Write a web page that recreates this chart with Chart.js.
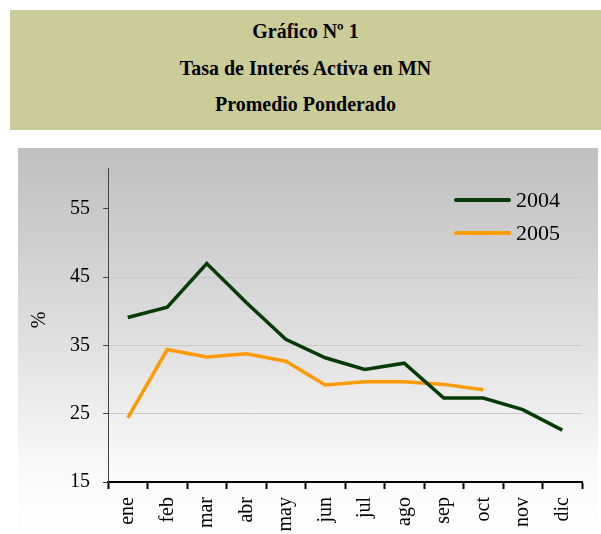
<!DOCTYPE html>
<html>
<head>
<meta charset="utf-8">
<script src="https://cdn.jsdelivr.net/npm/chart.js@4/dist/chart.umd.min.js"></script>
<style>
  body { margin: 0; width: 601px; height: 534px; background: #fff; position: relative; overflow: hidden; font-family: "Liberation Serif", serif; }
  #titleBox { position: absolute; left: 10px; top: 10px; width: 591px; height: 120px; background: #cccc99; }
  #titleBox div { position: absolute; left: 0; width: 100%; text-align: center; font-weight: bold; font-size: 21px; color: #000; transform: scaleX(0.95); }
  #panel { position: absolute; left: 18px; top: 148px; width: 580px; height: 386px;
    background: linear-gradient(to bottom, #bfbfbf 0%, #dedede 48%, #f7f7f7 80%, #ffffff 100%); }
  #chartCanvas { position: absolute; left: 0; top: 140px; }
  #yTitle { position: absolute; left: 28px; top: 310px; width: 20px; height: 20px; font-size: 20px; line-height: 20px; text-align: center; transform: rotate(-90deg); }
  #legend { position: absolute; left: 454px; top: 183px; }
  .legend-item { display: flex; align-items: center; height: 33px; font-size: 22px; }
  .legend-line { width: 57px; height: 4px; border-radius: 2px; margin-right: 5px; }
</style>
</head>
<body>
<div id="titleBox">
  <div style="top: 9px;">Gráfico Nº 1</div>
  <div style="top: 46px;">Tasa de Interés Activa en MN</div>
  <div style="top: 82px;">Promedio Ponderado</div>
</div>
<div id="panel"></div>
<canvas id="chartCanvas" width="601" height="394"></canvas>
<div id="yTitle">%</div>
<div id="legend"></div>

<script>
const months = ["ene", "feb", "mar", "abr", "may", "jun", "jul", "ago", "sep", "oct", "nov", "dic"];
const values2004 = [39.1, 40.6, 47.0, 41.3, 35.9, 33.2, 31.5, 32.4, 27.3, 27.3, 25.6, 22.6];
const values2005 = [24.4, 34.4, 33.3, 33.8, 32.7, 29.2, 29.7, 29.7, 29.3, 28.5, null, null];
const yTicks = [15, 25, 35, 45, 55];

const series = [
  { label: "2004", data: values2004, color: "#053b05" },
  { label: "2005", data: values2005, color: "#ff9a00" },
];

// leyenda a mano, arriba a la derecha
const legend = document.getElementById("legend");
series.forEach((s) => {
  const item = document.createElement("div");
  item.className = "legend-item";
  const line = document.createElement("span");
  line.className = "legend-line";
  line.style.background = s.color;
  const txt = document.createElement("span");
  txt.textContent = s.label;
  item.appendChild(line);
  item.appendChild(txt);
  legend.appendChild(item);
});

new Chart(document.getElementById("chartCanvas"), {
  type: "line",
  data: {
    labels: months,
    datasets: series.map((s) => ({
      label: s.label,
      data: s.data,
      borderColor: s.color,
      backgroundColor: s.color,
      borderWidth: 3.5,
      pointRadius: 0,
      tension: 0,
      spanGaps: false,
    })),
  },
  options: {
    responsive: false,
    animation: false,
    layout: { padding: { left: 0, right: 19, top: 28, bottom: 0 } },
    plugins: {
      legend: { display: false },
      tooltip: { enabled: false },
    },
    scales: {
      x: {
        offset: true,
        afterFit: (scale) => { scale.height = 52; },
        grid: {
          offset: true,
          drawOnChartArea: false,
          drawTicks: true,
          tickLength: 7,
          tickWidth: 2,
          tickColor: "#000000",
        },
        border: { color: "#000000", width: 2 },
        ticks: {
          autoSkip: false,
          minRotation: 90,
          maxRotation: 90,
          padding: 8,
          color: "#000000",
          font: { family: "Liberation Serif", size: 20 },
        },
      },
      y: {
        min: 15,
        max: 61,
        afterFit: (scale) => { scale.width = 108; },
        afterBuildTicks: (scale) => { scale.ticks = yTicks.map((v) => ({ value: v })); },
        grid: {
          color: "#c8c8c8",
          tickColor: "#444444",
          tickLength: 5,
          lineWidth: 1,
        },
        border: { color: "#444444", width: 1 },
        ticks: {
          padding: 13,
          color: "#000000",
          font: { family: "Liberation Serif", size: 20 },
        },
      },
    },
  },
});
</script>
</body>
</html>
